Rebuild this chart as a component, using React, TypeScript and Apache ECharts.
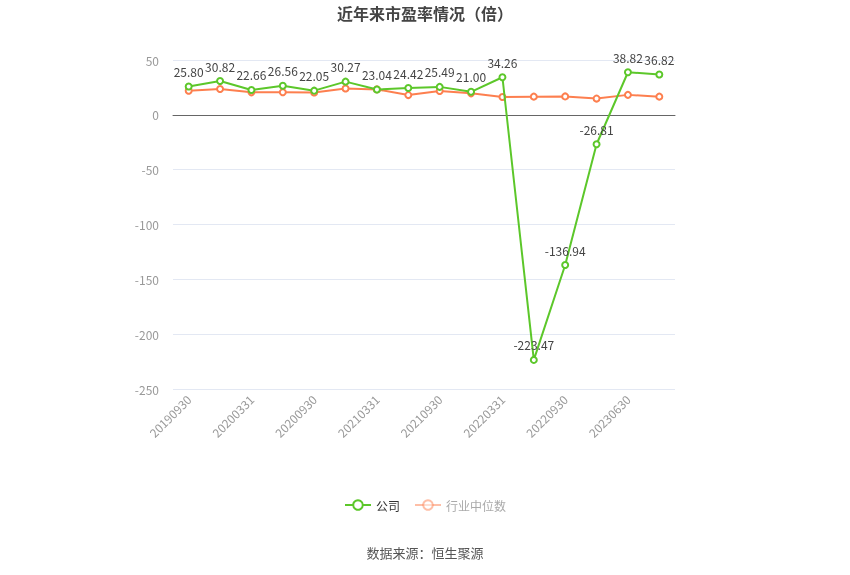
import { useEffect, useRef } from 'react';
import * as echarts from 'echarts';

const categories = [
  '20190930', '20191231', '20200331', '20200630', '20200930', '20201231',
  '20210331', '20210630', '20210930', '20211231', '20220331', '20220630',
  '20220930', '20230331', '20230630', '20230930',
];
const companyPE = [
  25.8, 30.82, 22.66, 26.56, 22.05, 30.27, 23.04, 24.42, 25.49, 21.0, 34.26,
  -223.47, -136.94, -26.81, 38.82, 36.82,
];
const industryMedian = [
  22.0, 23.5, 20.5, 20.6, 20.4, 24.0, 23.2, 18.0, 21.8, 19.6, 16.2, 16.6,
  16.8, 14.8, 18.2, 16.6,
];

const GREEN = '#5cc72a';
const ORANGE = '#fd7f4f';

export default function App() {
  const chartRef = useRef<HTMLDivElement>(null);

  useEffect(() => {
    if (!chartRef.current) return;
    const chart = echarts.init(chartRef.current, undefined, { renderer: 'svg' });
    const font = '"Noto Sans CJK SC", "Noto Sans", sans-serif';

    chart.setOption({
      animation: false,
      textStyle: { fontFamily: font },
      title: {
        text: '近年来市盈率情况（倍）',
        left: 'center',
        top: 0,
        textStyle: { color: '#444', fontSize: 16, fontWeight: 'bold', fontFamily: font },
      },
      legend: {
        bottom: 59,
        left: 'center',
        itemWidth: 26,
        itemHeight: 12,
        itemGap: 14,
        textStyle: { fontSize: 12, color: '#333' },
        data: [
          { name: '公司' },
          {
            name: '行业中位数',
            itemStyle: { opacity: 0.5 },
            lineStyle: { opacity: 0.5 },
            textStyle: { color: '#aaa' },
          },
        ],
      },
      graphic: [
        {
          type: 'text',
          left: 'center',
          top: 546,
          style: { text: '数据来源：恒生聚源', fill: '#555', fontSize: 13, fontFamily: font },
        },
      ],
      grid: { left: 173, right: 175, top: 60, bottom: 186 },
      xAxis: [
        {
          type: 'category',
          data: categories,
          boundaryGap: true,
          axisLine: { onZero: true, lineStyle: { color: '#666' } },
          axisTick: { alignWithLabel: true, interval: 1, lineStyle: { color: '#666' } },
          axisLabel: { show: false },
        },
        {
          type: 'category',
          data: categories,
          position: 'bottom',
          boundaryGap: true,
          axisLine: { show: false, onZero: false },
          axisTick: { show: false },
          axisLabel: { color: '#999', fontSize: 12, rotate: 45, interval: 1, margin: 8 },
        },
      ],
      yAxis: {
        type: 'value',
        min: -250,
        max: 50,
        interval: 50,
        axisLine: { show: false },
        axisTick: { show: false },
        axisLabel: { color: '#999', fontSize: 12, margin: 14 },
        splitLine: { lineStyle: { color: '#e3e8f3' } },
      },
      series: [
        {
          name: '公司',
          type: 'line',
          xAxisIndex: 0,
          data: companyPE,
          color: GREEN,
          symbol: 'emptyCircle',
          symbolSize: 6,
          lineStyle: { width: 2, color: GREEN },
          itemStyle: { color: GREEN, borderWidth: 2 },
          label: {
            show: true,
            position: 'top',
            color: '#444',
            fontSize: 12,
            formatter: (p: { value: number }) => p.value.toFixed(2),
          },
          z: 3,
        },
        {
          name: '行业中位数',
          type: 'line',
          xAxisIndex: 0,
          data: industryMedian,
          color: ORANGE,
          symbol: 'emptyCircle',
          symbolSize: 6,
          lineStyle: { width: 2, color: ORANGE },
          itemStyle: { color: ORANGE, borderWidth: 2 },
          z: 2,
        },
      ],
    });

    return () => chart.dispose();
  }, []);

  return (
    <div
      ref={chartRef}
      style={{ position: 'fixed', left: 0, top: 0, width: 850, height: 575 }}
    />
  );
}
